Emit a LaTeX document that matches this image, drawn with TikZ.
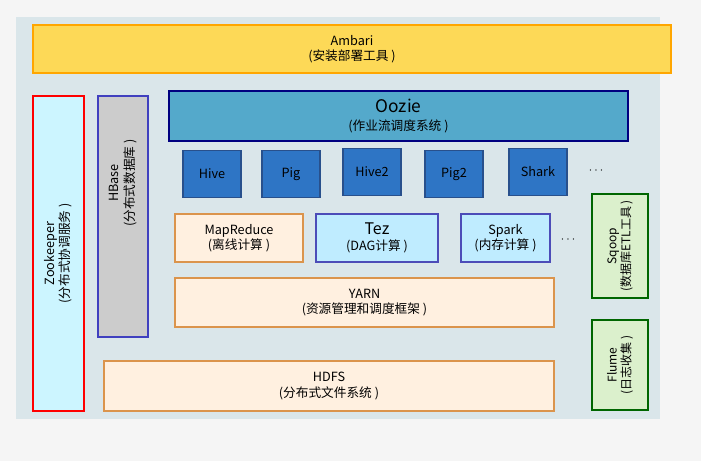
\documentclass[tikz,border=0pt]{standalone}
\usepackage{fontspec}
\setmainfont{Noto Sans CJK SC}
\begin{document}
\begin{tikzpicture}[x=0.75pt,y=-0.75pt,
 box/.style={draw,line width=0.8pt,align=center,inner sep=0pt,font=\fontsize{9.5}{11.5}\selectfont},
 org/.style={box,fill=orange!12,draw=orange!80!black!70},
 blu/.style={box,fill=blue!30!cyan!25!white,draw=blue!60!black!70},
 app/.style={box,fill=blue!65!cyan!70!black!90,draw=blue!40!black,fill=blue!70!cyan!80!black},
 grn/.style={box,fill=green!40!olive!20!white,draw=green!40!black},
 dots/.style={font=\fontsize{9}{10}\selectfont}]
\useasboundingbox (0,0) rectangle (701,461);
\fill[gray!8] (0,0) rectangle (701,461);
\fill[cyan!30!gray!25] (16,17) rectangle (660,419);
\node[box,fill=yellow!60!orange!65,draw=orange!70!yellow,minimum width=638*0.75pt,minimum height=48*0.75pt] (amb) at (352,49) {Ambari\\(安装部署工具 )};
\node[box,fill=blue!20!cyan!20!white,draw=red,line width=2pt,minimum width=51*0.75pt,minimum height=315*0.75pt] (zk) at (58.5,253.5) {};
\node[rotate=90,align=center,font=\fontsize{9.5}{11.5}\selectfont] (zkt) at (zk.center) {Zookeeper\\(分布式协调服务 )};
\node[box,fill=gray!40,draw=blue!50!gray,minimum width=50*0.75pt,minimum height=241*0.75pt] (hb) at (123,216.5) {};
\node[rotate=90,align=center,font=\fontsize{9.5}{11.5}\selectfont] (hbt) at (123,183) {HBase\\(分布式数据库 )};
\node[box,fill=cyan!50!teal!80!white,draw=blue!50!black,minimum width=459*0.75pt,minimum height=50*0.75pt,font=\fontsize{13}{15}\selectfont] (oz) at (398.5,116) {Oozie\\[-2pt]{\fontsize{9.5}{11}\selectfont (作业流调度系统 )}};
\foreach \n/\t/\x/\y in {hive/Hive/212/174,pig/Pig/291/174,hive2/Hive2/372/172,pig2/Pig2/454/174,shark/Shark/538/172}
 \node[box,fill={rgb,255:red,46;green,117;blue,197},draw={rgb,255:red,40;green,80;blue,140},minimum width=58*0.75pt,minimum height=47*0.75pt] (\n) at (\x,\y) {\t};
\node[dots] (d1) at (596,171) {$\cdots$};
\node[org,minimum width=128*0.75pt,minimum height=48*0.75pt] (mr) at (239,238) {MapReduce\\(离线计算 )};
\node[blu,minimum width=122*0.75pt,minimum height=48*0.75pt] (tez) at (377,238) {{\fontsize{12}{13}\selectfont Tez}\\(DAG计算 )};
\node[blu,minimum width=89*0.75pt,minimum height=48*0.75pt] (sp) at (505.5,238) {Spark\\(内存计算 )};
\node[dots] (d2) at (568,240) {$\cdots$};
\node[org,minimum width=379*0.75pt,minimum height=49*0.75pt] (yarn) at (364.5,302.5) {YARN\\(资源管理和调度框架 )};
\node[org,minimum width=450*0.75pt,minimum height=50*0.75pt] (hdfs) at (329,386) {HDFS\\(分布式文件系统 )};
\node[grn,minimum width=56*0.75pt,minimum height=104*0.75pt] (sq) at (620,246) {};
\node[rotate=90,align=center,font=\fontsize{9}{10.5}\selectfont] (sqt) at (sq.center) {Sqoop\\(数据库ETL工具 )};
\node[grn,minimum width=56*0.75pt,minimum height=90*0.75pt] (fl) at (620,365) {};
\node[rotate=90,align=center,font=\fontsize{9}{10.5}\selectfont] (flt) at (fl.center) {Flume\\(日志收集 )};
\end{tikzpicture}
\end{document}
